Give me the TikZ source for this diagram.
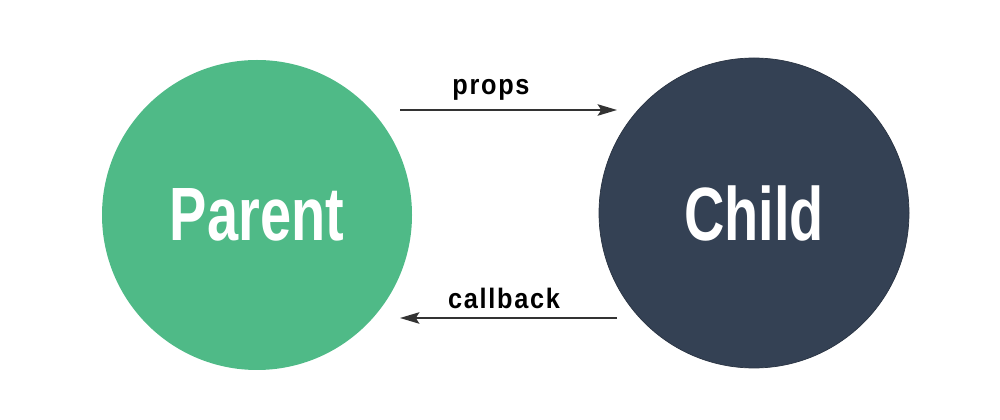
\documentclass[tikz,border=0pt]{standalone}
\usepackage{fontspec}
\setmainfont{Liberation Sans}
\newfontfamily\condfont[FakeStretch=0.74]{Liberation Sans}
\newfontfamily\labelfont[FakeStretch=0.9,LetterSpace=6]{Liberation Sans}
\usetikzlibrary{arrows.meta,positioning}

\definecolor{parentgreen}{HTML}{4FBA87}
\definecolor{childslate}{HTML}{344154}
\definecolor{arrowgray}{HTML}{333333}

\begin{document}
\begin{tikzpicture}[>={Stealth[length=11pt,width=6.5pt,inset=2pt]},thick,
    comp node/.style={circle,minimum size=6.2cm,inner sep=0pt,text=white,font=\condfont\bfseries\fontsize{43}{43}\selectfont},
    flow label/.style={font=\labelfont\bfseries\fontsize{16}{16}\selectfont,text=black},
    flow/.style={->,draw=arrowgray,line width=1.1pt}]
    \useasboundingbox (0,0) rectangle (20,8.4);

    \node[comp node,fill=parentgreen] (parent) at (5.14,4.1) {Parent};
    \node[comp node,fill=childslate,draw=childslate!80!black,thin] (child) at (15.08,4.14) {Child};

    % flow ends
    \coordinate (propsfrom) at (8.0,6.2);
    \coordinate (propsto) at (12.34,6.2);
    \coordinate (cbfrom) at (12.34,2.04);
    \coordinate (cbto) at (8.0,2.04);

    \node[flow label] (props) at (9.82,6.6) {props};
    \node[flow label] (callback) at (10.08,2.44) {callback};

    \path[every edge/.style={flow}]
        (propsfrom) edge (propsto)
        (cbfrom) edge (cbto)
        ;
\end{tikzpicture}
\end{document}
